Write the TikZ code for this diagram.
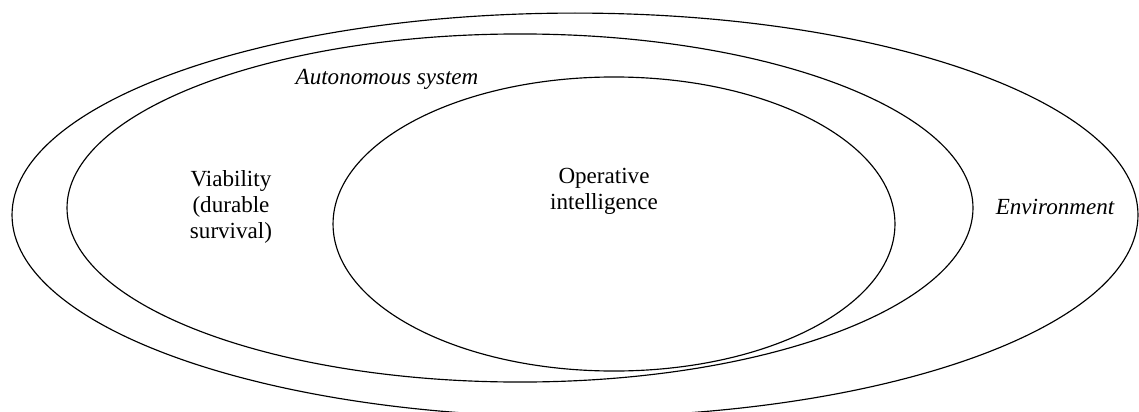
\documentclass[tikz,border=0pt]{standalone}
\usepackage{fontspec}
\setmainfont{Liberation Serif}
\usetikzlibrary{shapes.geometric}

\begin{document}
\begin{tikzpicture}[x=0.52pt, y=-0.52pt, line width=0.6pt,
    zone/.style={draw, ellipse, inner sep=0pt},
    txt/.style={font=\fontsize{12}{13.5}\selectfont, align=center}]
  \useasboundingbox (0,0) rectangle (1139,412);
  % Environment
  \node[zone, minimum width=585.5pt, minimum height=210pt] (env) at (575,215) {};
  \node[txt, font=\fontsize{12}{13.5}\selectfont\itshape] (envtext) at (1055,207) {Environment};
  % Autonomous system
  \node[zone, minimum width=471.1pt, minimum height=181pt] (sys) at (520,208) {};
  \node[txt, font=\fontsize{12}{13.5}\selectfont\itshape] (systext) at (387,79) {Autonomous system};
  \node[txt] (viab) at (231,207) {Viability\\(durable\\survival)};
  % Operative intelligence
  \node[zone, minimum width=292.2pt, minimum height=152.9pt] (intel) at (614,224) {};
  \node[txt] (inteltext) at (604,191) {Operative\\intelligence};
\end{tikzpicture}
\end{document}
